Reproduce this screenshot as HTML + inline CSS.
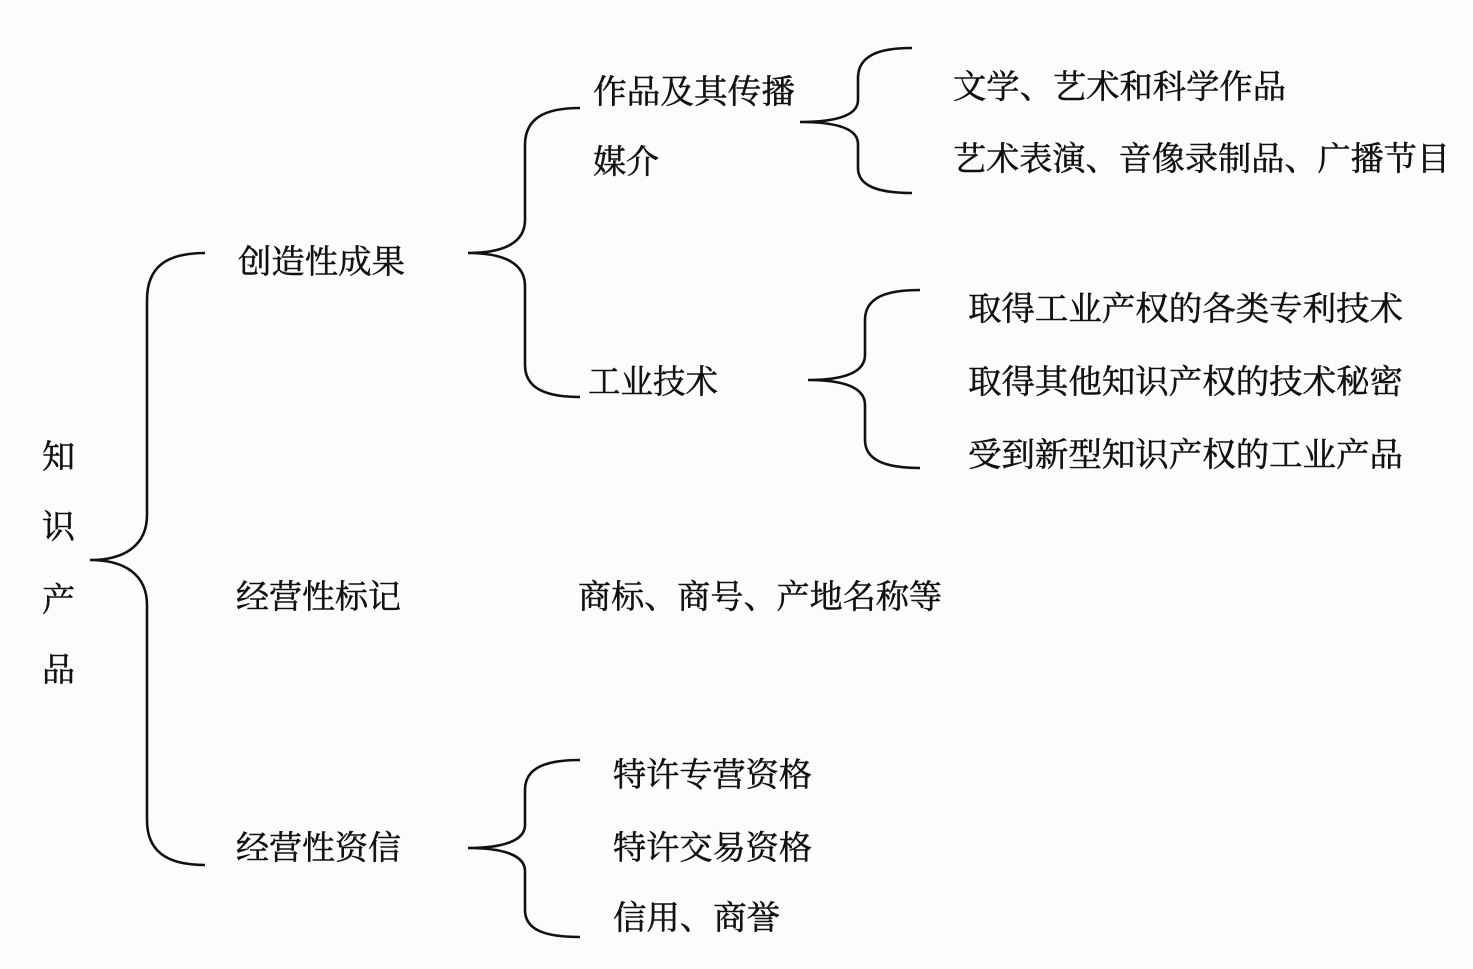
<!DOCTYPE html>
<html><head><meta charset="utf-8"><style>
html,body{margin:0;padding:0;background:#fcfcfc;}
svg{display:block;}
text{font-family:"Liberation Serif","Noto Serif CJK SC","Noto Sans CJK SC",serif;font-size:33px;fill:#111;dominant-baseline:central;stroke:#111;stroke-width:0.5;}
path{fill:none;stroke:#111;stroke-width:2.6;}
</style></head><body>
<svg width="1473" height="969" viewBox="0 0 1473 969" xmlns="http://www.w3.org/2000/svg">
<path d="M205,253 C165,253 147,268 147,300 L147,515 C147,545 125,560 90,560 C125,560 147,575 147,605 L147,820 C147,850 165,865 205,865"/>
<path d="M580,108 C545,108 525,118 525,145 L525,220 C525,242 505,253 468,253 C505,253 525,264 525,286 L525,365 C525,388 545,397 580,397"/>
<path d="M912,48 C878,48 858,56 858,78 L858,100 C858,114 840,122 800,122 C840,122 858,130 858,144 L858,168 C858,186 878,193 912,193"/>
<path d="M920,290 C885,290 865,298 865,320 L865,355 C865,372 845,380 808,380 C845,380 865,388 865,405 L865,440 C865,460 885,468 920,468"/>
<path d="M580,760 C545,760 525,768 525,790 L525,825 C525,840 505,848 468,848 C505,848 525,856 525,871 L525,910 C525,930 545,937 580,937"/>
<g transform="translate(0,3)">
<text x="42" y="455">知</text>
<text x="42" y="525">识</text>
<text x="42" y="598">产</text>
<text x="42" y="668">品</text>

<text x="238" y="260" textLength="167" lengthAdjust="spacingAndGlyphs">创造性成果</text>
<text x="236" y="595" textLength="165" lengthAdjust="spacingAndGlyphs">经营性标记</text>
<text x="236" y="846" textLength="165" lengthAdjust="spacingAndGlyphs">经营性资信</text>

<text x="593" y="90" textLength="202" lengthAdjust="spacingAndGlyphs">作品及其传播</text>
<text x="593" y="160" textLength="66" lengthAdjust="spacingAndGlyphs">媒介</text>
<text x="588" y="380" textLength="130" lengthAdjust="spacingAndGlyphs">工业技术</text>

<text x="953" y="85" textLength="333" lengthAdjust="spacingAndGlyphs">文学、艺术和科学作品</text>
<text x="953" y="157" textLength="497" lengthAdjust="spacingAndGlyphs">艺术表演、音像录制品、广播节目</text>

<text x="968" y="307" textLength="435" lengthAdjust="spacingAndGlyphs">取得工业产权的各类专利技术</text>
<text x="968" y="380" textLength="435" lengthAdjust="spacingAndGlyphs">取得其他知识产权的技术秘密</text>
<text x="968" y="453" textLength="435" lengthAdjust="spacingAndGlyphs">受到新型知识产权的工业产品</text>

<text x="578" y="595" textLength="364" lengthAdjust="spacingAndGlyphs">商标、商号、产地名称等</text>

<text x="613" y="773" textLength="199" lengthAdjust="spacingAndGlyphs">特许专营资格</text>
<text x="613" y="846" textLength="199" lengthAdjust="spacingAndGlyphs">特许交易资格</text>
<text x="613" y="916" textLength="167" lengthAdjust="spacingAndGlyphs">信用、商誉</text>
</g>
</svg>
</body></html>
